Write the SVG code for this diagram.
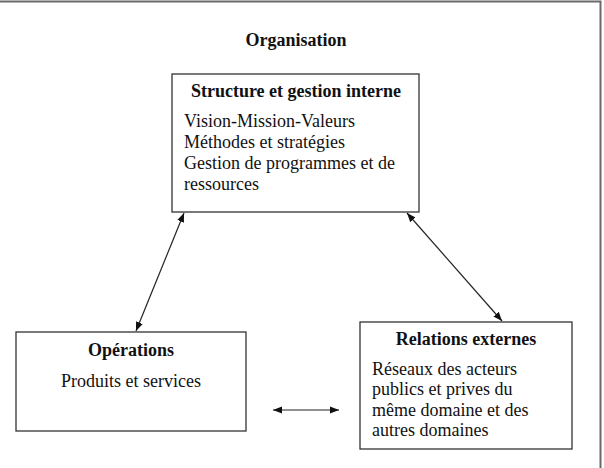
<svg xmlns="http://www.w3.org/2000/svg" width="604" height="468" viewBox="0 0 604 468">
<style>
.frame{fill:none;stroke:#6a6a6a;stroke-width:2}
.box{fill:#fff;stroke:#333;stroke-width:1.3}
.t{font-family:"Liberation Serif","Times New Roman",serif;font-size:18px;fill:#111}
.b{font-weight:bold;text-anchor:middle}
.con{stroke:#222;stroke-width:1.2;fill:none;marker-start:url(#ah);marker-end:url(#ah)}
</style>
<defs>
<marker id="ah" viewBox="0 0 10 10" refX="10" refY="5" markerWidth="9" markerHeight="9" markerUnits="userSpaceOnUse" orient="auto-start-reverse">
<path d="M0,1 L10,5 L0,9 Z" fill="#111"/>
</marker>
</defs>
<path class="frame" d="M0,1.5 H600.5 V468"/>
<text class="t b" x="296" y="46">Organisation</text>
<g id="structure">
<rect class="box" x="172" y="74" width="247" height="138"/>
<text class="t b" x="296" y="97">Structure et gestion interne</text>
<text class="t" x="184" y="127">Vision-Mission-Valeurs</text>
<text class="t" x="184" y="148">Méthodes et stratégies</text>
<text class="t" x="184" y="169">Gestion de programmes et de</text>
<text class="t" x="184" y="190">ressources</text>
</g>
<g id="operations">
<rect class="box" x="16" y="332" width="230" height="99"/>
<text class="t b" x="131" y="356">Opérations</text>
<text class="t" x="61" y="387">Produits et services</text>
</g>
<g id="relations">
<rect class="box" x="360" y="322" width="212" height="127"/>
<text class="t b" x="466" y="345">Relations externes</text>
<text class="t" x="372" y="375">Réseaux des acteurs</text>
<text class="t" x="372" y="395">publics et prives du</text>
<text class="t" x="372" y="416">même domaine et des</text>
<text class="t" x="372" y="436">autres domaines</text>
</g>
<g id="connectors">
<line class="con" x1="184" y1="213" x2="136" y2="331"/>
<line class="con" x1="407" y1="213" x2="502" y2="321"/>
<line class="con" x1="273" y1="410" x2="339" y2="410"/>
</g>
</svg>
